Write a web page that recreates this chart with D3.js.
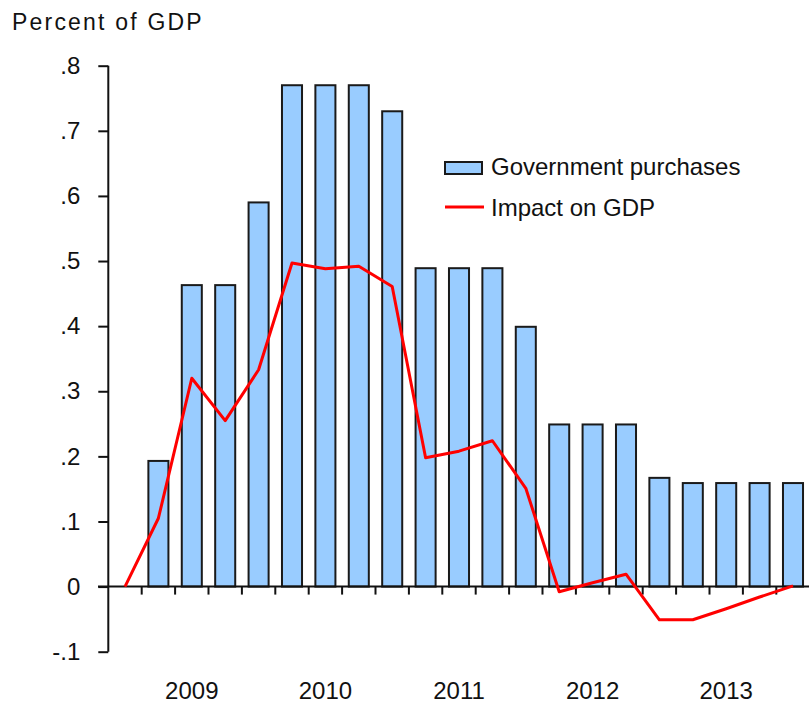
<!DOCTYPE html>
<html>
<head>
<meta charset="utf-8">
<script src="https://cdn.jsdelivr.net/npm/d3@7"></script>
<style>
  body { margin: 0; background: #fff; }
  text { font-family: "Liberation Sans", Arial, sans-serif; fill: #111; }
</style>
</head>
<body>
<div id="chart"></div>
<script>
// quarters 2008Q4 .. 2013Q4
const quarters = ["2008Q4",
  "2009Q1", "2009Q2", "2009Q3", "2009Q4",
  "2010Q1", "2010Q2", "2010Q3", "2010Q4",
  "2011Q1", "2011Q2", "2011Q3", "2011Q4",
  "2012Q1", "2012Q2", "2012Q3", "2012Q4",
  "2013Q1", "2013Q2", "2013Q3", "2013Q4"];
const purchases = [0, 0.193, 0.463, 0.463, 0.590, 0.770, 0.770, 0.770, 0.730,
  0.489, 0.489, 0.489, 0.399, 0.249, 0.249, 0.249, 0.167, 0.159, 0.159, 0.159, 0.159];
const impact = [0, 0.105, 0.320, 0.255, 0.333, 0.497, 0.488, 0.492, 0.461,
  0.198, 0.208, 0.224, 0.151, -0.008, 0.006, 0.019, -0.051, -0.051, -0.034, -0.016, 0.001];
const years = ["2009", "2010", "2011", "2012", "2013"];
const yTicks = [-0.1, 0, 0.1, 0.2, 0.3, 0.4, 0.5, 0.6, 0.7, 0.8];

const width = 809, height = 707;
const left = 108.3, bandW = 33.4;

const svg = d3.select('#chart').append('svg')
  .attr('width', width)
  .attr('height', height);

const x = d3.scaleBand()
  .domain(quarters)
  .range([left, left + bandW * quarters.length])
  .padding(0);

const y = d3.scaleLinear()
  .domain([-0.1, 0.8])
  .range([651.7, 65.7]);

// title
svg.append('text')
  .attr('x', 12)
  .attr('y', 30)
  .style('font-size', '23px')
  .style('letter-spacing', '2.2px')
  .text('Percent of GDP');

// bars
svg.append('g').selectAll('rect')
  .data(quarters.map((q, i) => ({ q, v: purchases[i] })).filter(d => d.v > 0))
  .join('rect')
  .attr('x', d => x(d.q) + x.bandwidth() * 0.2)
  .attr('width', x.bandwidth() * 0.6)
  .attr('y', d => y(d.v))
  .attr('height', d => y(0) - y(d.v))
  .attr('fill', '#99ccff')
  .attr('stroke', '#1a1a1a')
  .attr('stroke-width', 2);

// y axis
const fmt = d => d === 0 ? '0' : (d < 0 ? '-' : '') + '.' + Math.round(Math.abs(d) * 10);
const yAxis = svg.append('g')
  .attr('transform', `translate(${left},0)`)
  .call(d3.axisLeft(y)
    .tickValues(yTicks)
    .tickSize(10)
    .tickPadding(18)
    .tickFormat(fmt));
yAxis.select('.domain').attr('stroke', '#111').attr('stroke-width', 2).attr('d', `M0,${y(0.8)}V${y(-0.1)}`);
yAxis.selectAll('.tick line').attr('stroke', '#111').attr('stroke-width', 2);
yAxis.selectAll('.tick text')
  .style('font-size', '24px')
  .attr('fill', '#111');

// zero line with quarter ticks
const xAxis = svg.append('g');
xAxis.append('line')
  .attr('x1', 98).attr('x2', width)
  .attr('y1', y(0)).attr('y2', y(0))
  .attr('stroke', '#111').attr('stroke-width', 2);
xAxis.selectAll('.qtick')
  .data(quarters.slice(1))
  .join('line')
  .attr('class', 'qtick')
  .attr('x1', d => x(d)).attr('x2', d => x(d))
  .attr('y1', y(0)).attr('y2', y(0) + 8)
  .attr('stroke', '#111').attr('stroke-width', 2);

// year labels
xAxis.selectAll('.year')
  .data(years)
  .join('text')
  .attr('class', 'year')
  .attr('x', d => x(d + 'Q2') + x.bandwidth() / 2)
  .attr('y', 699)
  .attr('text-anchor', 'middle')
  .style('font-size', '24px')
  .text(d => d);

// impact line
const line = d3.line()
  .x((d, i) => x(quarters[i]) + x.bandwidth() / 2)
  .y(d => y(d));

svg.append('path')
  .datum(impact)
  .attr('d', line)
  .attr('fill', 'none')
  .attr('stroke', '#ff0000')
  .attr('stroke-width', 3)
  .attr('stroke-linejoin', 'round');

// legend
const legend = svg.append('g');
legend.append('rect')
  .attr('x', 445).attr('y', 162)
  .attr('width', 37).attr('height', 12)
  .attr('fill', '#99ccff')
  .attr('stroke', '#1a1a1a')
  .attr('stroke-width', 2);
legend.append('line')
  .attr('x1', 445).attr('x2', 484)
  .attr('y1', 207).attr('y2', 207)
  .attr('stroke', '#ff0000')
  .attr('stroke-width', 3);
legend.append('text')
  .attr('x', 491).attr('y', 175)
  .style('font-size', '24px')
  .text('Government purchases');
legend.append('text')
  .attr('x', 491).attr('y', 216)
  .style('font-size', '24px')
  .text('Impact on GDP');
</script>
</body>
</html>
